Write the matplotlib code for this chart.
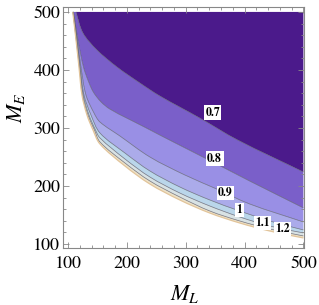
import matplotlib
matplotlib.use('Agg')
import numpy as np
import matplotlib.pyplot as plt
from matplotlib.path import Path
from matplotlib.patches import PathPatch
from matplotlib.ticker import MultipleLocator

plt.rcParams['mathtext.fontset'] = 'stix'
plt.rcParams['font.family'] = ['STIXGeneral', 'DejaVu Serif']

# contour curves (M_L, M_E), ordered from top edge to right edge
c07_ml = [113.6, 125.4, 149.2, 183.1, 222.0, 255.9, 323.7, 388.1, 500]
c07_me = [500, 463.8, 434.5, 405.2, 377.6, 355.2, 317.2, 279.3, 224.1]

c08_ml = [109.5, 116.9, 126.3, 134.5, 143.0, 156.0, 172.0, 227.1, 281.4, 340.7, 408.5, 500]
c08_me = [500, 451.7, 405.2, 381.0, 362.0, 345.0, 332.0, 303.0, 274.5, 244.0, 208.6, 162.1]

c09_ml = [109.0, 115.8, 122.0, 130.5, 144.1, 154.2, 188.1, 239.0, 298.3, 352.5, 408.5, 500]
c09_me = [500, 451.7, 405.2, 356.9, 325.9, 310.3, 286.2, 250.0, 219.0, 194.8, 169.0, 137.9]

c10_ml = [108.6, 114.9, 120.7, 127.1, 139.0, 154.2, 196.6, 239.0, 289.8, 340.7, 391.5, 442.4, 500]
c10_me = [500, 451.7, 405.2, 356.9, 322.4, 291.4, 256.9, 225.9, 198.3, 175.9, 156.9, 139.7, 124.1]

c11_ml = [108.5, 114.4, 119.8, 125.8, 135.6, 146.6, 154.2, 196.6, 239.0, 289.8, 340.7, 391.5, 442.4, 500]
c11_me = [500, 451.7, 405.2, 356.9, 322.4, 296.6, 282.8, 246.6, 215.5, 187.9, 165.5, 146.6, 131.0, 119.0]

c12_ml = [108.3, 113.9, 119.2, 124.6, 133.9, 144.9, 154.2, 196.6, 239.0, 289.8, 340.7, 391.5, 442.4, 500]
c12_me = [500, 451.7, 405.2, 356.9, 322.4, 296.6, 275.9, 239.7, 208.6, 181.0, 156.9, 139.7, 125.9, 113.8]

outer_ml = [108.1, 113.6, 118.6, 123.7, 132.2, 142.4, 154.2, 196.6, 239.0, 289.8, 340.7, 391.5, 442.4, 500]
outer_me = [500, 451.7, 405.2, 356.9, 322.4, 296.6, 272.4, 234.5, 203.4, 175.9, 153.4, 136.2, 122.4, 110.3]

level_labels = ['0.7', '0.8', '0.9', '1', '1.1', '1.2']
label_ml = [345.8, 349.2, 367.8, 391.5, 430.5, 464.4]
label_me = [325.9, 246.6, 187.9, 158.6, 136.2, 125.9]

band_colors = ['#4B1A8B', '#7A5FC9', '#998FE5', '#ABABEA', '#BAD6EA', '#D8E2E4', '#ECE2C8']

curves = [(c07_ml, c07_me), (c08_ml, c08_me), (c09_ml, c09_me), (c10_ml, c10_me),
          (c11_ml, c11_me), (c12_ml, c12_me), (outer_ml, outer_me)]


def smooth_segments(xs, ys):
    """Bezier (CURVE4) vertices of a smooth curve passing through the given points."""
    p = np.column_stack([xs, ys]).astype(float)
    n = len(p)
    d = np.linalg.norm(np.diff(p, axis=0), axis=1)
    tang = np.zeros_like(p)
    tang[0] = (p[1] - p[0]) / d[0]
    tang[-1] = (p[-1] - p[-2]) / d[-1]
    for i in range(1, n - 1):
        tang[i] = (p[i + 1] - p[i - 1]) / (d[i - 1] + d[i])
    verts = []
    for i in range(n - 1):
        c1 = p[i] + tang[i] * d[i] / 3.0
        c2 = p[i + 1] - tang[i + 1] * d[i] / 3.0
        verts += [tuple(c1), tuple(c2), tuple(p[i + 1])]
    return verts


def curve_path(xs, ys):
    v = [(xs[0], ys[0])] + smooth_segments(xs, ys)
    codes = [Path.MOVETO] + [Path.CURVE4] * (len(v) - 1)
    return v, codes


def band_path(a, b):
    va, ca = curve_path(*a)
    bx, by = list(b[0])[::-1], list(b[1])[::-1]
    vb, cb = curve_path(bx, by)
    cb[0] = Path.LINETO
    verts = va + vb + [va[0]]
    codes = ca + cb + [Path.CLOSEPOLY]
    return Path(verts, codes)


fig = plt.figure(figsize=(3.19, 3.05), dpi=100)
ax = fig.add_axes([63 / 319, 57 / 305, 241 / 319, 241 / 305])

# darkest region: above the 0.7 contour
va, ca = curve_path(c07_ml, c07_me)
dark = Path(va + [(500, 500), va[0]], ca + [Path.LINETO, Path.CLOSEPOLY])
ax.add_patch(PathPatch(dark, fc=band_colors[0], ec='none', lw=0))

for i in range(len(curves) - 1):
    ax.add_patch(PathPatch(band_path(curves[i], curves[i + 1]),
                           fc=band_colors[i + 1], ec='none', lw=0))

for cx, cy in curves[:-1]:
    v, c = curve_path(cx, cy)
    ax.add_patch(PathPatch(Path(v, c), fc='none', ec='#555566', lw=0.5, alpha=0.8))
v, c = curve_path(outer_ml, outer_me)
ax.add_patch(PathPatch(Path(v, c), fc='none', ec='#E2C49A', lw=0.9))

for s, x, y in zip(level_labels, label_ml, label_me):
    ax.text(x, y, s, ha='center', va='center', fontsize=8.5, fontweight='bold',
            color='black',
            bbox=dict(boxstyle='square,pad=0.12', fc='white', ec='none'))

ax.set_xlim(91.5, 501)
ax.set_ylim(93, 508.5)
ax.xaxis.set_major_locator(MultipleLocator(100))
ax.yaxis.set_major_locator(MultipleLocator(100))
ax.xaxis.set_minor_locator(MultipleLocator(20))
ax.yaxis.set_minor_locator(MultipleLocator(20))
ax.tick_params(which='both', direction='in', top=True, right=True, color='#888888', width=0.6)
ax.tick_params(which='major', length=4.5, labelsize=13, labelcolor='black')
ax.tick_params(which='minor', length=2.5)
ax.tick_params(axis='x', pad=6)
ax.tick_params(axis='y', pad=2)
for sp in ax.spines.values():
    sp.set_color('#888888')
    sp.set_linewidth(0.8)

fig.text(185 / 319, 1 - 294 / 305, '$M_L$', fontsize=16, ha='center', va='center')
fig.text(16 / 319, 1 - 108 / 305, '$M_E$', fontsize=16, ha='center', va='center',
         rotation=90)

fig.savefig('out.png', dpi=100)
